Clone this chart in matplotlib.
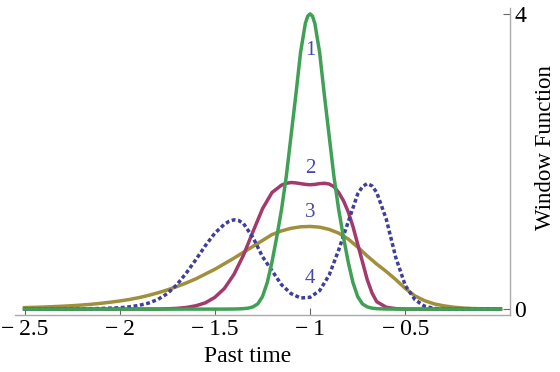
import matplotlib
matplotlib.use("Agg")
import matplotlib.pyplot as plt

# Window functions (x = past time)
green_x = [-2.5, -1.45, -1.4, -1.375, -1.35, -1.325, -1.3, -1.275, -1.25, -1.225,
           -1.2, -1.175, -1.15, -1.125, -1.1, -1.075, -1.05, -1.025, -1.0125,
           -1.0, -0.9875,
           -0.975, -0.95, -0.925, -0.9, -0.875, -0.85, -0.825, -0.8, -0.775,
           -0.75, -0.725, -0.7, -0.675, -0.65, -0.625, -0.6, -0.55, 0.0]
green_y = [0.0, 0.0, 0.001, 0.003, 0.006, 0.013, 0.03, 0.07, 0.17, 0.36,
           0.64, 0.98, 1.35, 1.8, 2.35, 2.9, 3.48, 3.87, 3.97,
           4.0, 3.97,
           3.87, 3.48, 2.9, 2.35, 1.8, 1.35, 0.98, 0.64, 0.36,
           0.17, 0.07, 0.03, 0.013, 0.006, 0.003, 0.001, 0.0, 0.0]

purple_x = [-2.5, -1.8, -1.75, -1.7, -1.65, -1.6, -1.55, -1.5, -1.45, -1.4,
            -1.35, -1.3, -1.25, -1.2, -1.15, -1.125, -1.1, -1.075, -1.05,
            -1.025, -1.0, -0.975, -0.95, -0.925, -0.9, -0.875, -0.85, -0.825,
            -0.8, -0.775, -0.75, -0.725, -0.7, -0.675, -0.65, -0.6, -0.55,
            -0.5, 0.0]
purple_y = [0.0, 0.0, 0.004, 0.01, 0.022, 0.045, 0.085, 0.16, 0.28, 0.47,
            0.73, 1.05, 1.36, 1.58, 1.68, 1.705, 1.715, 1.71, 1.70,
            1.69, 1.685, 1.69, 1.70, 1.705, 1.695, 1.66, 1.58, 1.47,
            1.32, 1.12, 0.88, 0.64, 0.40, 0.22, 0.10, 0.025, 0.006,
            0.0, 0.0]

olive_x = [-2.5, -2.45, -2.4, -2.35, -2.3, -2.25, -2.2, -2.15, -2.1, -2.05,
           -2.0, -1.95, -1.9, -1.85, -1.8, -1.75, -1.7, -1.65, -1.6, -1.55,
           -1.5, -1.45, -1.4, -1.35, -1.3, -1.25, -1.2, -1.15, -1.1, -1.05,
           -1.0, -0.95, -0.9, -0.85, -0.8, -0.75, -0.7, -0.65, -0.6, -0.55,
           -0.5, -0.45, -0.4, -0.35, -0.3, -0.25, -0.2, -0.15, -0.1, -0.05, 0.0]
olive_y = [0.02, 0.024, 0.028, 0.033, 0.039, 0.046, 0.055, 0.065, 0.078, 0.093,
           0.11, 0.13, 0.155, 0.185, 0.22, 0.26, 0.305, 0.355, 0.41, 0.475,
           0.54, 0.615, 0.69, 0.77, 0.85, 0.93, 1.01, 1.06, 1.095, 1.115,
           1.12, 1.11, 1.08, 1.03, 0.95, 0.84, 0.72, 0.61, 0.51, 0.40,
           0.28, 0.18, 0.115, 0.072, 0.045, 0.027, 0.015, 0.008, 0.004, 0.001, 0.0]

blue_x = [-2.5, -2.2, -2.1, -2.0, -1.95, -1.9, -1.85, -1.8, -1.75, -1.7,
          -1.65, -1.6, -1.55, -1.5, -1.45, -1.425, -1.4, -1.375, -1.35, -1.3,
          -1.25, -1.2, -1.15, -1.1, -1.05, -1.0, -0.95, -0.9, -0.85, -0.8,
          -0.75, -0.725, -0.7, -0.675, -0.65, -0.6, -0.55, -0.5, -0.45, -0.4,
          -0.35, -0.3, 0.0]
blue_y = [0.0, 0.003, 0.008, 0.018, 0.03, 0.05, 0.08, 0.13, 0.21, 0.33,
          0.49, 0.67, 0.86, 1.03, 1.15, 1.19, 1.21, 1.20, 1.16, 0.97,
          0.71, 0.52, 0.33, 0.21, 0.15, 0.16, 0.25, 0.46, 0.80, 1.18,
          1.56, 1.66, 1.70, 1.67, 1.58, 1.22, 0.70, 0.32, 0.13, 0.04,
          0.01, 0.0, 0.0]

curve_labels = ["1", "2", "3", "4"]
x_ticks = [-2.5, -2.0, -1.5, -1.0, -0.5]
x_tick_labels = ["\u2212\u20092.5", "\u2212\u20092", "\u2212\u20091.5",
                 "\u2212\u20091", "\u2212\u20090.5"]
y_ticks = [0, 4]
y_tick_labels = ["0", "4"]

plt.rcParams["font.family"] = ["Liberation Serif", "DejaVu Serif"]

fig = plt.figure(figsize=(5.6, 3.72), dpi=100)
ax = fig.add_axes([15 / 560, 57 / 372, 495 / 560, 307 / 372])

lw = 2.5
ax.plot(olive_x, olive_y, color="#a0903c", lw=lw, zorder=2)
ax.plot(purple_x, purple_y, color="#a23a6c", lw=lw, zorder=3)
ax.plot(blue_x, blue_y, color="#3e3e9c", lw=lw, zorder=4,
        linestyle=(0, (1.1, 0.75)), dash_capstyle="butt")
ax.plot(green_x, green_y, color="#40a055", lw=lw, zorder=5)

# curve numbers stacked above x = -1
label_y = [3.51, 1.91, 1.31, 0.42]
for txt, ly in zip(curve_labels, label_y):
    ax.text(-1.0, ly, txt, color="#4848a6", fontsize=15,
            ha="center", va="center", zorder=6)

ax.set_xlim(-2.55, 0.05)
ax.set_ylim(-0.08, 4.08)

for side in ["top", "left"]:
    ax.spines[side].set_visible(False)
for side in ["bottom", "right"]:
    ax.spines[side].set_color("#aaaaaa")
    ax.spines[side].set_linewidth(1.0)

ax.set_xticks(x_ticks)
ax.set_xticklabels(x_tick_labels)
ax.set_yticks(y_ticks)
ax.set_yticklabels(y_tick_labels)
ax.yaxis.tick_right()
ax.tick_params(axis="both", direction="in", length=5, width=0.8,
               color="#666666", labelsize=17, pad=3)

ax.set_xlabel("Past time", fontsize=17)
ax.xaxis.set_label_coords(0.469, -0.1)
ax.text(1.071, 0.544, "Window Function", transform=ax.transAxes,
        rotation=90, fontsize=16.5, ha="center", va="center")

fig.savefig("out.png", dpi=100)
